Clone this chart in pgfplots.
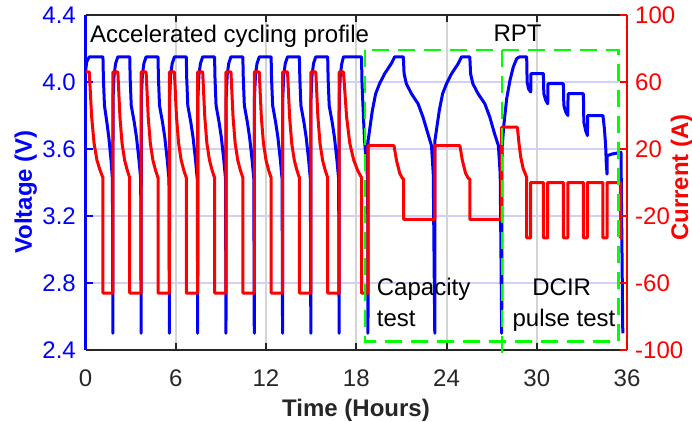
\documentclass[border=0pt]{standalone}
\usepackage{pgfplots}
\pgfplotsset{compat=1.18}
\usepackage{fontspec}
\setmainfont{Liberation Sans}
\definecolor{mblue}{RGB}{0,0,255}
\definecolor{mred}{RGB}{255,0,0}
\definecolor{mgreen}{RGB}{0,255,0}
\definecolor{axgray}{RGB}{38,38,38}
\definecolor{hgrid}{RGB}{208,208,248}
\definecolor{vgrid}{RGB}{212,212,212}
\newcommand{\bigf}{\fontsize{24}{28}\selectfont}
\begin{document}
\begin{tikzpicture}
\begin{axis}[
 scale only axis, width=541.5pt, height=335pt,
 xmin=0, xmax=36, ymin=2.4, ymax=4.4,
 separate axis lines,
 axis x line*=box, axis y line*=left,
 xtick={0,6,12,18,24,30,36}, xticklabels={0,6,12,18,24,30,36},
 ytick={2.4,2.8,3.2,3.6,4.0,4.4}, yticklabels={2.4,2.8,3.2,3.6,4.0,4.4},
 tick align=inside, major tick length=7pt,
 xmajorgrids, ymajorgrids,
 x grid style={vgrid, line width=2pt},
 y grid style={hgrid, line width=2pt},
 x axis line style={axgray, line width=2.8pt},
 y axis line style={mblue, line width=2.8pt},
 xtick style={axgray, line width=2pt},
 ytick style={mblue, line width=2pt},
 every tick label/.append style={inner sep=0pt},
 xticklabel style={font=\bigf, text=axgray, anchor=base, yshift=-36.5pt},
 yticklabel style={font=\bigf, text=mblue, anchor=east, xshift=-9.5pt},
]
\addplot[mblue, line width=3pt, line join=round] coordinates {
(0,4.06)(0.08,4.12)(0.25,4.15)(1.16,4.15)(1.19,4.02)(1.26,3.86)(1.42,3.76)(1.55,3.67)(1.70,3.53)(1.79,3.42)(1.82,2.5)
(1.83,3.9)(1.90,4.04)(2.00,4.11)(2.15,4.15)(2.94,4.15)(2.97,4.02)(3.04,3.86)(3.24,3.76)(3.39,3.67)(3.56,3.53)(3.67,3.42)(3.70,2.5)
(3.71,3.9)(3.78,4.04)(3.88,4.11)(4.03,4.15)(4.82,4.15)(4.85,4.02)(4.92,3.86)(5.12,3.76)(5.27,3.67)(5.44,3.53)(5.55,3.42)(5.58,2.5)
(5.59,3.9)(5.66,4.04)(5.76,4.11)(5.91,4.15)(6.70,4.15)(6.73,4.02)(6.80,3.86)(7.00,3.76)(7.15,3.67)(7.32,3.53)(7.43,3.42)(7.46,2.5)
(7.47,3.9)(7.54,4.04)(7.64,4.11)(7.79,4.15)(8.58,4.15)(8.61,4.02)(8.68,3.86)(8.88,3.76)(9.03,3.67)(9.20,3.53)(9.31,3.42)(9.34,2.5)
(9.35,3.9)(9.42,4.04)(9.52,4.11)(9.67,4.15)(10.46,4.15)(10.49,4.02)(10.56,3.86)(10.76,3.76)(10.91,3.67)(11.08,3.53)(11.19,3.42)(11.22,2.5)
(11.23,3.9)(11.30,4.04)(11.40,4.11)(11.55,4.15)(12.34,4.15)(12.37,4.02)(12.44,3.86)(12.64,3.76)(12.79,3.67)(12.96,3.53)(13.07,3.42)(13.10,2.5)
(13.11,3.9)(13.18,4.04)(13.28,4.11)(13.43,4.15)(14.22,4.15)(14.25,4.02)(14.32,3.86)(14.52,3.76)(14.67,3.67)(14.84,3.53)(14.95,3.42)(14.98,2.5)
(14.99,3.9)(15.06,4.04)(15.16,4.11)(15.31,4.15)(16.10,4.15)(16.13,4.02)(16.20,3.86)(16.40,3.76)(16.55,3.67)(16.72,3.53)(16.83,3.42)(16.86,2.5)
(16.87,3.9)(16.94,4.04)(17.04,4.11)(17.15,4.15)(18.35,4.15)(18.38,4.0)(18.45,3.85)(18.55,3.65)(18.70,3.5)(18.76,3.4)(18.78,2.5)
(18.79,3.65)(19.07,3.83)(19.29,3.93)(19.55,3.99)(19.89,4.05)(20.33,4.11)(20.55,4.15)(21.13,4.15)(21.18,4.05)(21.33,3.99)(21.67,3.93)(22.11,3.87)(22.44,3.79)(22.77,3.69)(23.0,3.62)(23.12,3.45)(23.22,2.5)
(23.23,3.65)(23.52,3.83)(23.74,3.93)(24.0,3.99)(24.34,4.05)(24.78,4.11)(25.0,4.15)(25.55,4.15)(25.6,4.05)(25.75,3.99)(26.1,3.93)(26.55,3.87)(26.88,3.79)(27.2,3.69)(27.45,3.62)(27.57,3.45)(27.67,2.5)
(27.69,3.6)(27.82,3.75)(28.0,3.90)(28.22,4.01)(28.44,4.09)(28.67,4.14)(28.85,4.15)(29.33,4.15)(29.36,4.0)(29.45,3.96)(29.6,3.94)(29.61,4.05)
(30.44,4.05)(30.47,3.93)(30.6,3.89)(30.73,3.87)(30.74,3.99)(31.77,3.99)(31.8,3.86)(31.93,3.82)(32.07,3.80)(32.08,3.93)
(33.1,3.93)(33.13,3.76)(33.25,3.71)(33.37,3.68)(33.38,3.80)(34.4,3.80)(34.5,3.72)(34.58,3.62)(34.62,3.52)(34.67,3.45)(34.68,3.56)
(35.0,3.57)(35.6,3.58)(35.72,2.5)
};
\end{axis}
\begin{axis}[
 scale only axis, width=541.5pt, height=335pt,
 xmin=0, xmax=36, ymin=-100, ymax=100,
 axis x line=none, axis y line*=right,
 ytick={-100,-60,-20,20,60,100}, yticklabels={-100,-60,-20,20,60,100},
 tick align=inside, major tick length=7pt,
 y axis line style={mred, line width=2.8pt},
 ytick style={mred, line width=2pt},
 every tick label/.append style={inner sep=0pt},
 yticklabel style={font=\bigf, text=mred, anchor=west, xshift=8pt},
]
\addplot[mred, line width=3pt, line join=round] coordinates {
(0,66)(0.25,66)(0.41,39)(0.57,23.4)(0.76,13.4)(0.96,7.5)(1.11,3.9)(1.16,3)(1.16,-66)(1.82,-66)
(1.82,66)(2.15,66)(2.29,39)(2.43,23.4)(2.60,13.4)(2.77,7.5)(2.90,3.9)(2.94,3)(2.94,-66)(3.70,-66)
(3.70,66)(4.03,66)(4.17,39)(4.31,23.4)(4.48,13.4)(4.65,7.5)(4.78,3.9)(4.82,3)(4.82,-66)(5.58,-66)
(5.58,66)(5.91,66)(6.05,39)(6.19,23.4)(6.36,13.4)(6.53,7.5)(6.66,3.9)(6.70,3)(6.70,-66)(7.46,-66)
(7.46,66)(7.79,66)(7.93,39)(8.07,23.4)(8.24,13.4)(8.41,7.5)(8.54,3.9)(8.58,3)(8.58,-66)(9.34,-66)
(9.34,66)(9.67,66)(9.81,39)(9.95,23.4)(10.12,13.4)(10.29,7.5)(10.42,3.9)(10.46,3)(10.46,-66)(11.22,-66)
(11.22,66)(11.55,66)(11.69,39)(11.83,23.4)(12.00,13.4)(12.17,7.5)(12.30,3.9)(12.34,3)(12.34,-66)(13.10,-66)
(13.10,66)(13.43,66)(13.57,39)(13.71,23.4)(13.88,13.4)(14.05,7.5)(14.18,3.9)(14.22,3)(14.22,-66)(14.98,-66)
(14.98,66)(15.31,66)(15.45,39)(15.59,23.4)(15.76,13.4)(15.93,7.5)(16.06,3.9)(16.10,3)(16.10,-66)(16.86,-66)
(16.86,66)(17.15,66)(17.36,39)(17.57,23.4)(17.83,13.4)(18.08,7.5)(18.29,3.9)(18.35,3)(18.35,-66)(18.78,-66)
(18.78,22)(20.51,22)(20.67,13.4)(20.89,5.5)(21.07,2.5)(21.15,2)(21.15,-22)(23.22,-22)
(23.22,22)(24.89,22)(25.05,13.4)(25.27,5.5)(25.45,2.5)(25.55,2)(25.55,-22)(27.67,-22)
(27.67,33)(28.71,33)(28.82,23.4)(28.93,15.4)(29.09,8.5)(29.27,4.5)(29.33,3)(29.33,-33)(29.6,-33)(29.6,0)
(30.44,0)(30.44,-33)(30.73,-33)(30.73,0)(31.77,0)(31.77,-33)(32.07,-33)(32.07,0)
(33.1,0)(33.1,-33)(33.37,-33)(33.37,0)(34.4,0)(34.4,-33)(34.67,-33)(34.67,0)
(35.58,0)(35.58,-33)(35.7,-33)
};
\end{axis}
\begin{scope}[shift={(current axis.south west)}, xshift=-85.5pt, yshift=350pt, x=1pt, y=-1pt]
\draw[mgreen, line width=2.8pt, dash pattern=on 17pt off 9pt] (365,50) rectangle (618.3,341.7);
\draw[mgreen, line width=2.8pt, dash pattern=on 17pt off 9pt] (502,50) -- (502,353);
\node[anchor=base west, inner sep=0pt, font=\bigf] at (90,43) {Accelerated cycling profile};
\node[anchor=base, inner sep=0pt, font=\bigf] at (517.5,41.7) {RPT};
\node[anchor=base west, inner sep=0pt, font=\bigf] at (376.7,295) {Capacity};
\node[anchor=base west, inner sep=0pt, font=\bigf] at (376.7,326.7) {test};
\node[anchor=base, inner sep=0pt, font=\bigf] at (561.7,295) {DCIR};
\node[anchor=base, inner sep=0pt, font=\bigf] at (564,326.7) {pulse test};
\node[anchor=base, rotate=90, inner sep=0pt, font=\bigf\bfseries, text=mblue] at (32,192) {Voltage (V)};
\node[anchor=base, rotate=90, inner sep=0pt, font=\bigf\bfseries, text=mred] at (688,177.5) {Current (A)};
\node[anchor=base, inner sep=0pt, font=\bigf\bfseries, text=axgray] at (356,416) {Time (Hours)};
\pgfresetboundingbox
\path[use as bounding box] (0,0) rectangle (692,421);
\end{scope}
\end{tikzpicture}
\end{document}
